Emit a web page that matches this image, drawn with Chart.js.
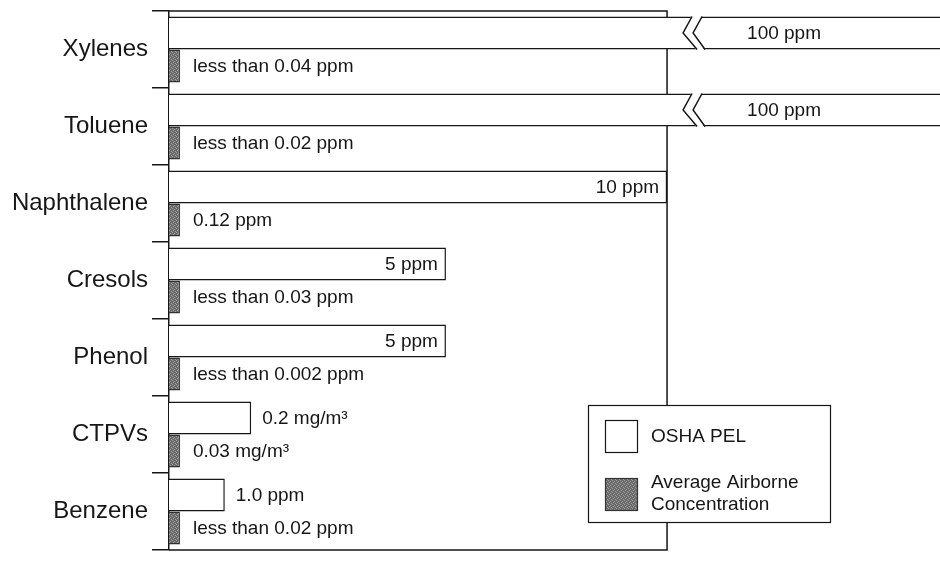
<!DOCTYPE html>
<html lang="en">
<head>
  <meta charset="UTF-8" />
  <title>OSHA PEL vs Average Airborne Concentration</title>
  <script src="https://cdn.jsdelivr.net/npm/chart.js"></script>
  <style>
    body { margin: 0; background: #fff; }
    #wrap { width: 940px; height: 563px; position: relative; }
  </style>
</head>
<body>
  <div id="wrap"><canvas id="pelChart"></canvas></div>

  <script>
    const chemicals = ['Xylenes', 'Toluene', 'Naphthalene', 'Cresols', 'Phenol', 'CTPVs', 'Benzene'];
    // bar lengths as drawn (schematic scale: Naphthalene 10 ppm reaches the box edge)
    const pelBar = [100, 100, 10, 5.56, 5.56, 1.65, 1.12];
    const avgBar = [0.22, 0.22, 0.22, 0.22, 0.22, 0.22, 0.22];
    const pelLabels = ['100 ppm', '100 ppm', '10 ppm', '5 ppm', '5 ppm', '0.2 mg/m³', '1.0 ppm'];
    const avgLabels = ['less than 0.04 ppm', 'less than 0.02 ppm', '0.12 ppm', 'less than 0.03 ppm',
                       'less than 0.002 ppm', '0.03 mg/m³', 'less than 0.02 ppm'];
    const boxEdge = 10;

    const ink = '#161616';
    const font = '"Liberation Sans", Arial, sans-serif';

    function stipple() {
      const c = document.createElement('canvas');
      c.width = c.height = 4;
      const g = c.getContext('2d');
      g.fillStyle = '#6a6a6a';
      g.fillRect(0, 0, 4, 4);
      g.fillStyle = '#a0a0a0';
      [[0, 0], [2, 1], [1, 2], [3, 3]].forEach(([px, py]) => g.fillRect(px, py, 1, 1));
      return g.createPattern(c, 'repeat');
    }
    const grey = stipple();

    // box top, right and bottom edges (drawn under the bars)
    const frame = {
      id: 'frame',
      beforeDatasetsDraw(chart) {
        const { ctx, chartArea: a, scales: { x } } = chart;
        const right = x.getPixelForValue(boxEdge);
        ctx.save();
        ctx.strokeStyle = ink;
        ctx.lineWidth = 1.5;
        ctx.beginPath();
        ctx.moveTo(a.left, a.top);
        ctx.lineTo(right, a.top);
        ctx.lineTo(right, a.bottom);
        ctx.lineTo(a.left, a.bottom);
        ctx.stroke();
        ctx.restore();
      }
    };

    // break marks on the off-scale bars + value labels
    const valueLabels = {
      id: 'valueLabels',
      afterDatasetsDraw(chart) {
        const { ctx, scales: { x } } = chart;
        const edge = x.getPixelForValue(boxEdge);
        const bx = edge + 16;
        ctx.save();
        ctx.font = '19px ' + font;
        ctx.fillStyle = ink;
        ctx.textBaseline = 'middle';

        chart.getDatasetMeta(0).data.forEach((bar, i) => {
          const { x: end, y, height } = bar.getProps(['x', 'y', 'height'], true);
          const top = y - height / 2, bot = y + height / 2;
          if (pelBar[i] > boxEdge) {
            ctx.fillStyle = '#fff';
            ctx.beginPath();
            ctx.moveTo(bx + 9, top - 1.5);
            ctx.lineTo(bx + 19, top - 1.5);
            ctx.lineTo(bx + 10, y);
            ctx.lineTo(bx + 22, bot + 1.5);
            ctx.lineTo(bx + 14, bot + 1.5);
            ctx.lineTo(bx, y);
            ctx.closePath();
            ctx.fill();
            ctx.strokeStyle = ink;
            ctx.lineWidth = 1.5;
            ctx.beginPath();
            ctx.moveTo(bx + 9, top); ctx.lineTo(bx, y); ctx.lineTo(bx + 14, bot);
            ctx.moveTo(bx + 19, top); ctx.lineTo(bx + 10, y); ctx.lineTo(bx + 22, bot);
            ctx.stroke();
            ctx.fillStyle = ink;
            ctx.textAlign = 'left';
            ctx.fillText(pelLabels[i], bx + 64, y + 1);
          } else {
            const w = ctx.measureText(pelLabels[i]).width;
            if (end - chart.chartArea.left > w + 20) {
              ctx.textAlign = 'right';
              ctx.fillText(pelLabels[i], end - 8, y + 1);
            } else {
              ctx.textAlign = 'left';
              ctx.fillText(pelLabels[i], end + 11, y + 1);
            }
          }
        });

        ctx.textAlign = 'left';
        chart.getDatasetMeta(1).data.forEach((bar, i) => {
          const { x: end, y } = bar.getProps(['x', 'y'], true);
          ctx.fillText(avgLabels[i], end + 13, y + 1);
        });
        ctx.restore();
      }
    };

    const legendBox = {
      id: 'legendBox',
      afterDraw(chart) {
        const ctx = chart.ctx;
        ctx.save();
        ctx.fillStyle = '#fff';
        ctx.strokeStyle = ink;
        ctx.lineWidth = 1.2;
        ctx.fillRect(588, 405, 242, 117);
        ctx.strokeRect(588.5, 405.5, 242, 117);

        ctx.fillStyle = '#fff';
        ctx.fillRect(605, 420, 32, 32);
        ctx.strokeRect(605.5, 420.5, 32, 32);
        ctx.fillStyle = grey;
        ctx.fillRect(605, 478, 32, 32);
        ctx.strokeStyle = '#333';
        ctx.strokeRect(605.5, 478.5, 32, 32);

        ctx.fillStyle = ink;
        ctx.font = '19px ' + font;
        ctx.textBaseline = 'middle';
        ctx.textAlign = 'left';
        ctx.fillText('OSHA PEL', 651, 437);
        ctx.fillText('Average Airborne', 651, 483);
        ctx.fillText('Concentration', 651, 505);
        ctx.restore();
      }
    };

    new Chart(document.getElementById('pelChart'), {
      type: 'bar',
      data: {
        labels: chemicals,
        datasets: [
          {
            label: 'OSHA PEL',
            data: pelBar,
            backgroundColor: '#fff',
            borderColor: ink,
            borderWidth: 1.5
          },
          {
            label: 'Average Airborne Concentration',
            data: avgBar,
            backgroundColor: grey,
            borderColor: '#333',
            borderWidth: 1.5
          }
        ]
      },
      options: {
        indexAxis: 'y',
        responsive: true,
        maintainAspectRatio: false,
        animation: false,
        categoryPercentage: 0.857,
        barPercentage: 1.0,
        layout: { padding: { top: 11, bottom: 13, left: 0, right: 0 } },
        scales: {
          x: { display: false, min: 0, max: 15.48 },
          y: {
            afterFit(s) { s.width = 169; },
            grid: {
              display: true,
              drawOnChartArea: false,
              drawTicks: true,
              tickLength: 17,
              color: ink,
              lineWidth: 1.5,
              offset: true
            },
            border: { display: true, color: ink, width: 1.5 },
            ticks: {
              padding: 4,
              color: ink,
              font: { family: font, size: 24, lineHeight: 0.5 }
            }
          }
        },
        plugins: {
          legend: { display: false },
          tooltip: { enabled: false }
        }
      },
      plugins: [frame, valueLabels, legendBox]
    });
  </script>
</body>
</html>
